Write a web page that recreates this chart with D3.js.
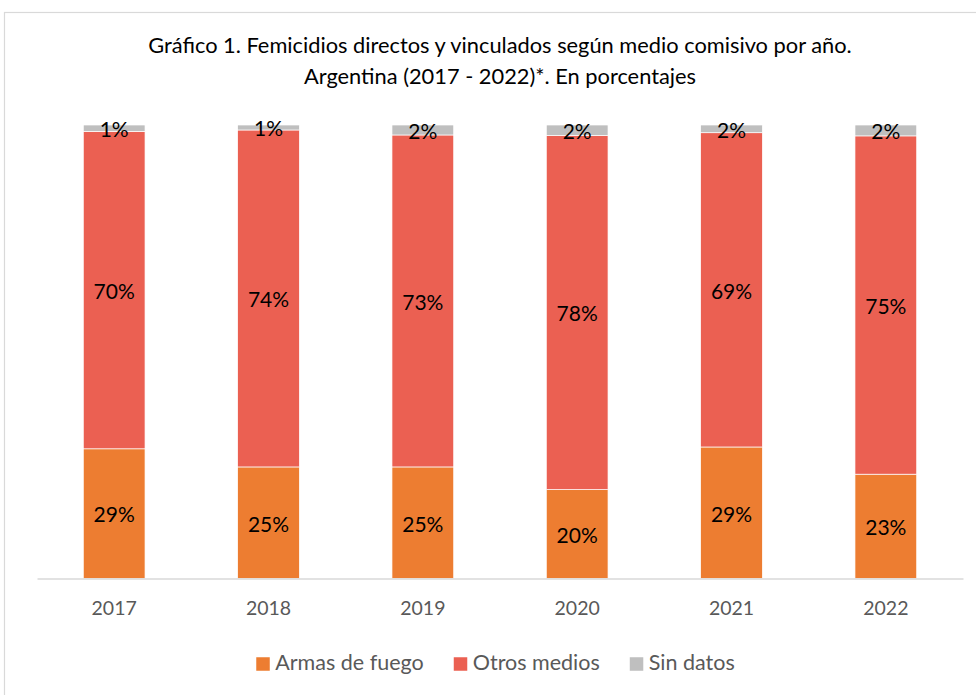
<!DOCTYPE html>
<html>
<head>
<meta charset="utf-8">
<script src="https://cdn.jsdelivr.net/npm/d3@7"></script>
<style>
  html, body { margin: 0; padding: 0; background: #fff; }
  svg { display: block; }
  text { font-family: Lato, "Open Sans", sans-serif; }
</style>
</head>
<body>
<svg id="chart" width="976" height="695"></svg>
<script>
// ---- data ----
const years = ["2017", "2018", "2019", "2020", "2021", "2022"];
const armasDeFuego = [28.6, 24.6, 24.6, 19.6, 29.0, 23.0];
const otrosMedios = [70.0, 74.3, 73.2, 78.1, 69.3, 74.6];
const sinDatos = [1.4, 1.1, 2.2, 2.3, 1.7, 2.4];
const seriesNames = ["Armas de fuego", "Otros medios", "Sin datos"];
const titleLines = [
  "Gráfico 1. Femicidios directos y vinculados según medio comisivo por año.",
  "Argentina (2017 - 2022)*. En porcentajes"
];

// ---- styles ----
const colors = ["#ED7D31", "#EB6052", "#BFBFBF"];
const svg = d3.select("#chart");

// chart frame
svg.append("rect")
  .attr("x", 4.5).attr("y", 12.5)
  .attr("width", 1000).attr("height", 720)
  .attr("fill", "#fff").attr("stroke", "#D9D9D9").attr("stroke-width", 1.2);

const table = years.map((y, i) => ({
  year: y,
  "Armas de fuego": armasDeFuego[i],
  "Otros medios": otrosMedios[i],
  "Sin datos": sinDatos[i]
}));
const stacked = d3.stack().keys(seriesNames)(table);

const x = d3.scaleBand().domain(years).range([37, 963]).paddingInner(0.6).paddingOuter(0.3);
const y = d3.scaleLinear().domain([0, 100]).range([578.5, 125]);

// title
function fit(sel, target) {
  const w = sel.node().getComputedTextLength();
  const fs = parseFloat(sel.attr("font-size"));
  sel.attr("font-size", fs * target / w);
}
const t1 = svg.append("text").attr("x", 500).attr("y", 47)
  .attr("text-anchor", "middle").attr("dominant-baseline", "middle")
  .attr("font-size", 20).attr("fill", "#000").text(titleLines[0]);
fit(t1, 704);
const t2 = svg.append("text").attr("x", 500).attr("y", 78)
  .attr("text-anchor", "middle").attr("dominant-baseline", "middle")
  .attr("font-size", 20).attr("fill", "#000").text(titleLines[1]);
t2.attr("font-size", t1.attr("font-size"));

// bars
const groups = svg.append("g").selectAll("g").data(stacked).join("g")
  .attr("fill", (d, i) => colors[i]);
groups.selectAll("rect").data(d => d).join("rect")
  .attr("x", d => x(d.data.year))
  .attr("width", x.bandwidth())
  .attr("y", d => y(d[1]))
  .attr("height", d => y(d[0]) - y(d[1]))
  .attr("stroke", "#fff").attr("stroke-width", 0.7);

// axis
const xAxis = d3.axisBottom(x).tickSize(0).tickPadding(0);
const ax = svg.append("g").attr("transform", `translate(0,${y(0)})`).call(xAxis);
ax.select(".domain").attr("stroke", "#D9D9D9").attr("stroke-width", 1.6);
ax.selectAll(".tick text")
  .attr("y", 32).attr("dy", null)
  .attr("dominant-baseline", "middle")
  .attr("font-family", "Lato, 'Open Sans', sans-serif")
  .attr("font-size", 19.5).attr("fill", "#595959");

// data labels
const labelGroups = svg.append("g").selectAll("g").data(stacked).join("g");
labelGroups.selectAll("text").data(d => d).join("text")
  .attr("x", d => x(d.data.year) + x.bandwidth() / 2)
  .attr("y", d => (y(d[0]) + y(d[1])) / 2 + 3.5)
  .attr("text-anchor", "middle").attr("dominant-baseline", "middle")
  .attr("font-size", 21).attr("fill", "#000")
  .text(d => Math.round(d[1] - d[0]) + "%");

// legend
const legend = svg.append("g");
const items = legend.selectAll("g").data(seriesNames).join("g");
items.append("rect").attr("width", 13.5).attr("height", 13.5)
  .attr("y", -6.75).attr("fill", (d, i) => colors[i]);
items.append("text").attr("x", 19).attr("dominant-baseline", "middle").attr("y", 1)
  .attr("font-size", 21.5).attr("fill", "#595959").text(d => d);
let cx = 0;
const widths = [];
items.each(function () { widths.push(19 + d3.select(this).select("text").node().getComputedTextLength()); });
const gap = 30;
const totalW = d3.sum(widths) + gap * (widths.length - 1);
items.attr("transform", (d, i) => {
  const pos = cx; cx += widths[i] + gap;
  return `translate(${pos},0)`;
});
legend.attr("transform", `translate(${495.5 - totalW / 2},664)`);
</script>
</body>
</html>
